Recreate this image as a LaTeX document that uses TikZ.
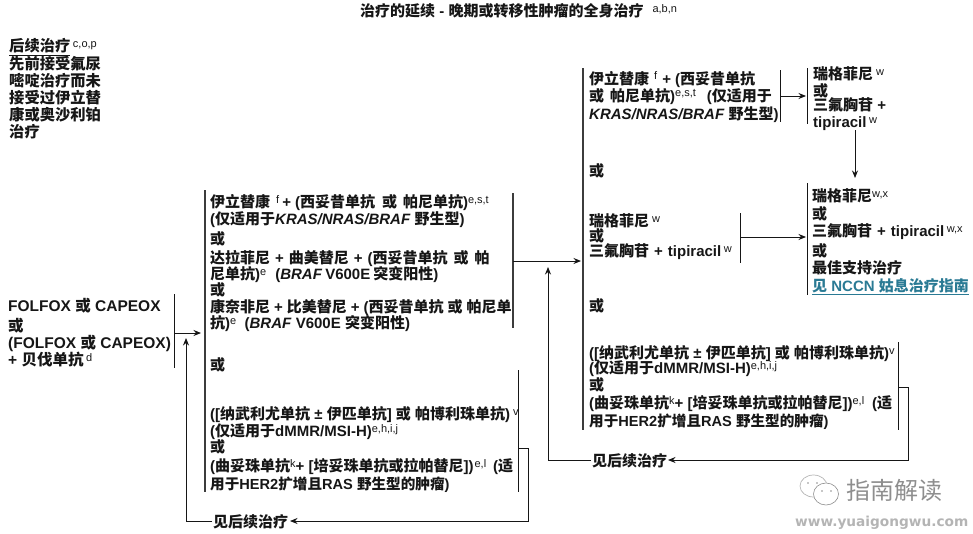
\documentclass[tikz,border=0pt]{standalone}
\usepackage{fontspec}
\setmainfont{Liberation Sans}
\newfontfamily\cjk{Noto Sans CJK SC}
\newfontfamily\wmfont{DejaVu Sans}
\usetikzlibrary{arrows.meta}
\newcommand\zh[1]{{\cjk #1}}
\newcommand\sps[1]{\raisebox{4.5pt}{\fontsize{11}{11}\selectfont\mdseries #1}}
\newcommand\fst{\rule{0pt}{12pt}}
\newcommand\hs[1]{\hspace{#1pt}}
\newcommand\narrowline[1]{{\fontsize{14.6}{17}\selectfont #1}}
\newcommand\tightlines{\lineskiplimit=-100pt\lineskip=0pt\relax}
\definecolor{ink}{HTML}{161616}
\definecolor{barc}{HTML}{3C3C3C}
\definecolor{linkc}{HTML}{2A7A94}
\definecolor{wmc}{HTML}{8E8E8E}
\definecolor{wmd}{HTML}{B4B4B4}
\tikzset{
 txt/.style={anchor=north west,inner sep=0pt,align=left,text=ink,font=\fontsize{15}{17}\selectfont\bfseries},
 bar/.style={draw=ink,line width=0.9pt},
 bigbar/.style={draw=barc,line width=1.5pt},
 conn/.style={draw=ink,line width=0.9pt},
 arr/.style={conn,-{Stealth[length=7.5pt,width=6pt]}},
}
\begin{document}
\begin{tikzpicture}[x=1pt,y=-1pt]
\tightlines
\useasboundingbox (0,0) rectangle (973,533);
% title
\node[txt] (title) at (360,3.5) {\fst\zh{治疗的延续} - \zh{晚期或转移性肿瘤的全身治疗}\hs{9}\sps{a,b,n}};
% left heading
\node[txt,font=\fontsize{15.3}{17}\selectfont\bfseries] (head) at (9,38.5) {\fst\underline{\zh{后续治疗}}\,\sps{c,o,p}\\[1pt]\zh{先前接受氟尿}\\\zh{嘧啶治疗而未}\\\zh{接受过伊立替}\\\zh{康或奥沙利铂}\\\zh{治疗}};
% first line
\node[txt,font=\fontsize{15.5}{17}\selectfont\bfseries] (first) at (8,297.5) {\fst FOLFOX \zh{或} CAPEOX\\[3.5pt]\zh{或}\\(FOLFOX \zh{或} CAPEOX)\\+ \zh{贝伐单抗}\,\sps{d}};
% second line, upper
\node[txt] (secA) at (210,194.5) {\fst\zh{伊立替康}\hs{6}\sps{f}\hs{3}+\hs{4}(\zh{西妥昔单抗}\hs{7}\zh{或}\hs{6}\zh{帕尼单抗})\sps{e,s,t}\\
(\zh{仅适用于}\textit{KRAS/NRAS/BRAF} \zh{野生型})\\[3pt]
\zh{或}\\[2pt]
\zh{达拉菲尼}\hs{5}+\hs{5}\zh{曲美替尼}\hs{5}+\hs{5}(\zh{西妥昔单抗}\hs{6}\zh{或}\hs{6}\zh{帕}\\[-1pt]
\zh{尼单抗})\sps{e}\hs{9}(\textit{BRAF}\hs{3}V600E\hs{3}\zh{突变阳性})\\[-1pt]
\zh{或}\\
\zh{康奈非尼}\hs{4}+\hs{4}\zh{比美替尼}\hs{4}+\hs{4}(\zh{西妥昔单抗}\hs{4}\zh{或}\hs{4}\zh{帕尼单}\\[-1pt]
\zh{抗})\sps{e}\ \ (\textit{BRAF} V600E \zh{突变阳性})};
\node[txt] (secOr) at (210,357) {\fst\zh{或}};
\node[txt] (secB) at (210,406.5) {\fst([\zh{纳武利尤单抗} ± \zh{伊匹单抗}] \zh{或} \zh{帕博利珠单抗})\hs{3}\sps{v}\\
(\zh{仅适用于}dMMR/MSI-H)\sps{e,h,i,j}\\[-1pt]
\zh{或}\\[2pt]
(\zh{曲妥珠单抗}\sps{k}+ [\zh{培妥珠单抗或拉帕替尼}])\hs{1}\sps{e,l}\hs{7}(\zh{适}\\[1pt]
\narrowline{\zh{用于}HER2\zh{扩增且}RAS \zh{野生型的肿瘤})}};
\node[txt] (next1) at (213,514.5) {\fst\zh{见后续治疗}};
% third line
\node[txt] (thiA) at (589,71) {\fst\zh{伊立替康}\hs{5}\sps{f}\hs{5}+\hs{4}(\zh{西妥昔单抗}\\\zh{或}\hs{6}\zh{帕尼单抗})\sps{e,s,t}\hs{11}(\zh{仅适用于}\\[1pt]\textit{KRAS/NRAS/BRAF} \zh{野生型})};
\node[txt] (thiOr) at (589,163.5) {\fst\zh{或}};
\node[txt] (thiB) at (589,213.5) {\fst\zh{瑞格菲尼}\hs{3}\sps{w}\\[-2pt]\zh{或}\\[-2pt]\zh{三氟胸苷}\hs{5}+\hs{5}tipiracil\,\sps{w}};
\node[txt] (thiOr2) at (589,298.5) {\fst\zh{或}};
\node[txt] (thiC) at (589,345.5) {\fst([\zh{纳武利尤单抗} ± \zh{伊匹单抗}] \zh{或} \zh{帕博利珠单抗})\sps{v}\\[-2pt]
(\zh{仅适用于}dMMR/MSI-H)\sps{e,h,i,j}\\
\zh{或}\\[1pt]
(\zh{曲妥珠单抗}\sps{k}+ [\zh{培妥珠单抗或拉帕替尼}])\sps{e,l}\hs{8}(\zh{适}\\[1pt]
\narrowline{\zh{用于}HER2\zh{扩增且}RAS \zh{野生型的肿瘤})}};
\node[txt] (next2) at (592,453.5) {\fst\zh{见后续治疗}};
% fourth line
\node[txt] (fouA) at (813,66.5) {\fst\zh{瑞格菲尼}\hs{3}\sps{w}\\\zh{或}\\[-3pt]\zh{三氟胸苷} +\\tipiracil\,\sps{w}};
\node[txt] (fouB) at (812,188.5) {\fst\zh{瑞格菲尼}\sps{w,x}\\[1pt]\zh{或}\\\zh{三氟胸苷}\hs{5}+\hs{5}tipiracil\,\sps{w,x}\\[3pt]\zh{或}\\\zh{最佳支持治疗}\\[1pt]{\color{linkc}\underline{\zh{见} NCCN \zh{姑息治疗指南}}}};
% watermark
\node[anchor=base west,inner sep=0pt,text=wmc,font=\fontsize{24}{24}\selectfont] (wmA) at (846,499) {\zh{指南解读}};
\node[anchor=base west,inner sep=0pt,text=wmd,font=\fontsize{13.7}{14}\selectfont\bfseries] (wmB) at (795,526) {\wmfont www.yuaigongwu.com};
\draw[wmd,line width=0.7pt] (813.5,486) ellipse [x radius=13.5,y radius=11];
\draw[wmc,line width=0.6pt,fill=white] (826,494) ellipse [x radius=12.5,y radius=11];
\fill[wmc] (808,483) circle (0.9) (817,483) circle (0.9) (822,491) circle (0.9) (831,491) circle (0.9);
% bars as named end points
\coordinate (b1t) at (174,294); \coordinate (b1b) at (174,368);
\coordinate (b2t) at (205,190); \coordinate (b2b) at (205,492);
\coordinate (b3t) at (513,193); \coordinate (b3b) at (513,328);
\coordinate (b4t) at (518,370); \coordinate (b4b) at (518,492);
\coordinate (b5t) at (583,68);  \coordinate (b5b) at (583,430);
\coordinate (b6t) at (780,70);  \coordinate (b6b) at (780,122);
\coordinate (b7t) at (807,68);  \coordinate (b7b) at (807,124);
\coordinate (b8t) at (807,183); \coordinate (b8b) at (807,295);
\coordinate (b9t) at (740,213); \coordinate (b9b) at (740,263);
\coordinate (b10t) at (898,342);\coordinate (b10b) at (898,430);
\draw[bar] (b1t) -- (b1b);
\draw[bigbar] (b2t) -- (b2b);
\draw[bigbar] (b3t) -- (b3b);
\draw[bar] (b4t) -- (b4b);
\draw[bigbar] (b5t) -- (b5b);
\draw[bar] (b6t) -- (b6b);
\draw[bar] (b7t) -- (b7b);
\draw[bar] (b8t) -- (b8b);
\draw[bar] (b9t) -- (b9b);
\draw[bar] (b10t) -- (b10b);
% connectors
\coordinate (c1) at (174,333); \coordinate (c1e) at (201,333);
\draw[arr] (c1) -- (c1e);
\coordinate (c2) at (513,261); \coordinate (c2e) at (581,261);
\draw[arr] (c2) -- (c2e);
\coordinate (c3) at (780,96); \coordinate (c3e) at (806,96);
\draw[arr] (c3) -- (c3e);
\coordinate (c4) at (855,130); \coordinate (c4e) at (855,178);
\draw[arr] (c4) -- (c4e);
\coordinate (c5) at (740,237); \coordinate (c5e) at (806,237);
\draw[arr] (c5) -- (c5e);
% loops
\coordinate (l1a) at (518,448); \coordinate (l1b) at (528,448); \coordinate (l1c) at (528,521); \coordinate (l1d) at (290,521);
\draw[arr] (l1a) -- (l1b) -- (l1c) -- (l1d);
\coordinate (l1e) at (212,521); \coordinate (l1f) at (186,521); \coordinate (l1g) at (186,338);
\draw[arr] (l1e) -- (l1f) -- (l1g);
\coordinate (l2a) at (898,387); \coordinate (l2b) at (908,387); \coordinate (l2c) at (908,460); \coordinate (l2d) at (668,460);
\draw[arr] (l2a) -- (l2b) -- (l2c) -- (l2d);
\coordinate (l2e) at (591,460); \coordinate (l2f) at (548,460); \coordinate (l2g) at (548,267);
\draw[arr] (l2e) -- (l2f) -- (l2g);
\end{tikzpicture}
\end{document}
